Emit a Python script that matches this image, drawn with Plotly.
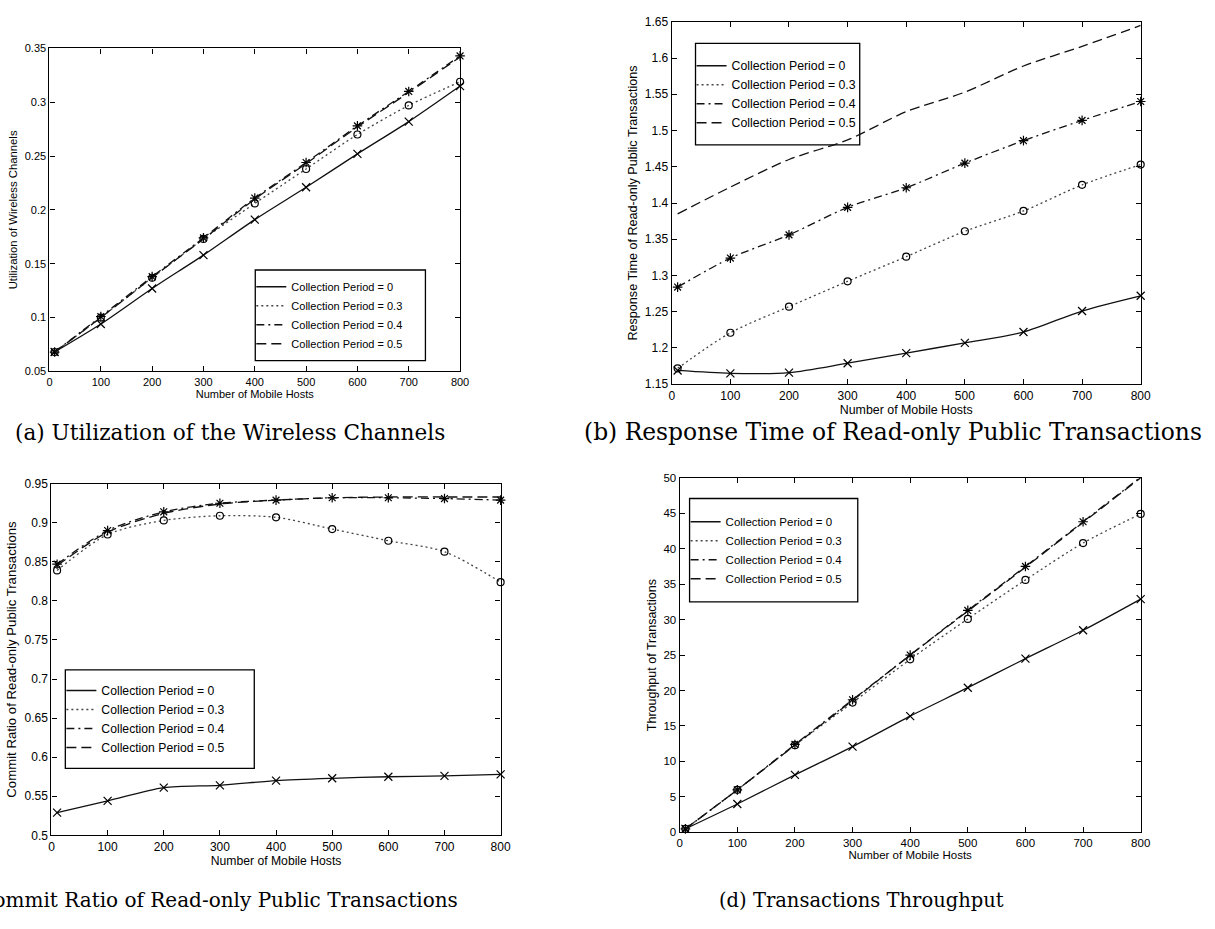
import plotly.graph_objects as go

W, H = 1215, 929

hosts = [10, 100, 200, 300, 400, 500, 600, 700, 800]
series_names = ["Collection Period = 0", "Collection Period = 0.3",
                "Collection Period = 0.4", "Collection Period = 0.5"]

# (a) Utilization of the Wireless Channels
util_cp0 = [0.068, 0.094, 0.127, 0.158, 0.191, 0.221, 0.252, 0.282, 0.315]
util_cp3 = [0.068, 0.100, 0.137, 0.173, 0.206, 0.238, 0.270, 0.297, 0.319]
util_cp4 = [0.068, 0.101, 0.138, 0.174, 0.211, 0.244, 0.278, 0.310, 0.343]
util_cp5 = [0.068, 0.100, 0.137, 0.173, 0.210, 0.243, 0.277, 0.309, 0.342]

# (b) Response Time of Read-only Public Transactions
resp_cp0 = [1.169, 1.165, 1.166, 1.179, 1.193, 1.207, 1.222, 1.251, 1.272]
resp_cp3 = [1.172, 1.221, 1.257, 1.292, 1.326, 1.361, 1.389, 1.425, 1.453]
resp_cp4 = [1.284, 1.324, 1.356, 1.394, 1.421, 1.455, 1.486, 1.514, 1.540]
resp_cp5 = [1.385, 1.422, 1.460, 1.487, 1.526, 1.553, 1.589, 1.616, 1.645]

# (c) Commit Ratio of Read-only Public Transactions
commit_cp0 = [0.529, 0.544, 0.561, 0.564, 0.570, 0.573, 0.575, 0.576, 0.578]
commit_cp3 = [0.839, 0.885, 0.903, 0.909, 0.907, 0.892, 0.877, 0.863, 0.824]
commit_cp4 = [0.847, 0.890, 0.914, 0.925, 0.929, 0.932, 0.932, 0.931, 0.929]
commit_cp5 = [0.845, 0.888, 0.912, 0.924, 0.929, 0.932, 0.933, 0.933, 0.933]

# (d) Transactions Throughput
thr_cp0 = [0.5, 4.0, 8.1, 12.1, 16.4, 20.4, 24.5, 28.5, 32.9]
thr_cp3 = [0.5, 6.0, 12.3, 18.3, 24.4, 30.1, 35.6, 40.8, 44.9]
thr_cp4 = [0.5, 6.0, 12.4, 18.7, 25.0, 31.3, 37.5, 43.8, 50.1]
thr_cp5 = [0.5, 6.0, 12.3, 18.6, 25.0, 31.2, 37.4, 43.7, 50.0]

panels = [
    dict(data=[util_cp0, util_cp3, util_cp4, util_cp5],
         box=(47, 462, 42, 370), yrange=[0.05, 0.35], ydtick=0.05,
         ytitle="Utilization of Wireless Channels",
         tick=11, xt=11, yt=11.3, leg=11,
         legend_box=(255, 427, 267, 359),
         caption="(a) Utilization of the Wireless Channels",
         cap_pos=(10, 432), cap_anchor="left", cap_size=21.6),
    dict(data=[resp_cp0, resp_cp3, resp_cp4, resp_cp5],
         box=(676, 1150, 15, 383), yrange=[1.15, 1.65], ydtick=0.05,
         ytitle="Response Time of Read-only Public Transactions",
         tick=12, xt=12.4, yt=12.6, leg=12.3,
         legend_box=(700, 866, 37, 140),
         caption="(b) Response Time of Read-only Public Transactions",
         cap_pos=(585, 432), cap_anchor="left", cap_size=23.4),
    dict(data=[commit_cp0, commit_cp3, commit_cp4, commit_cp5],
         box=(49, 503, 484, 841), yrange=[0.5, 0.95], ydtick=0.05,
         ytitle="Commit Ratio of Read-only Public Transactions",
         tick=12, xt=12.2, yt=13.2, leg=12.2,
         legend_box=(63, 254, 673, 773),
         caption="(c) Commit Ratio of Read-only Public Transactions",
         cap_pos=(462, 907), cap_anchor="right", cap_size=20),
    dict(data=[thr_cp0, thr_cp3, thr_cp4, thr_cp5],
         box=(684, 1150, 478, 838), yrange=[0, 50], ydtick=5,
         ytitle="Throughput of Transactions",
         tick=11.5, xt=11.5, yt=12.5, leg=11.5,
         legend_box=(694, 864, 499, 604),
         caption="(d) Transactions Throughput",
         cap_pos=(722, 907), cap_anchor="left", cap_size=19.5),
]

styles = [
    dict(dash="solid", symbol="x-thin-open", msize=8, color="#111111"),
    dict(dash="2px,3px", symbol="circle-open", msize=7, color="#444444"),
    dict(dash="8px,4px,2px,4px", symbol="asterisk-open", msize=8, color="#111111"),
    dict(dash="10px,5px", symbol=None, msize=0, color="#111111"),
]

SANS = "Liberation Sans, Arial, sans-serif"
SERIF = "DejaVu Serif, Liberation Serif, serif"

fig = go.Figure()
layout = dict(width=W, height=H, margin=dict(l=0, r=0, t=0, b=0),
              plot_bgcolor="white", paper_bgcolor="white", showlegend=True,
              font=dict(family=SANS, color="black"))
annotations = []
shapes = []

for i, p in enumerate(panels):
    k = "" if i == 0 else str(i + 1)
    x0, x1, y0, y1 = p["box"]
    legname = "legend" if i == 0 else f"legend{i + 1}"
    for j, (vals, st) in enumerate(zip(p["data"], styles)):
        mode = "lines+markers" if st["symbol"] else "lines"
        tr = go.Scatter(
            x=hosts, y=vals, mode=mode, name=series_names[j], showlegend=False,
            xaxis="x" + k, yaxis="y" + k,
            line=dict(color=st["color"], width=1.3, dash=st["dash"], shape="spline", smoothing=0.8),
            cliponaxis=False,
        )
        if st["symbol"]:
            tr.marker = dict(symbol=st["symbol"], size=st["msize"], color="black",
                             line=dict(color="black", width=1.2))
        fig.add_trace(tr)
        # legend entry (line sample only, as in the original)
        fig.add_trace(go.Scatter(
            x=[None], y=[None], mode="lines", name=series_names[j],
            xaxis="x" + k, yaxis="y" + k, legend=legname,
            line=dict(color=st["color"], width=1.5, dash=st["dash"]),
        ))
    layout["xaxis" + k] = dict(
        domain=[x0 / W, x1 / W], anchor="y" + k, range=[0, 800], dtick=100,
        showline=True, mirror="ticks", linecolor="black", linewidth=1.3,
        ticks="inside", ticklen=5, tickcolor="black", showgrid=False, zeroline=False,
        tickfont=dict(family=SANS, size=p["tick"], color="black"),
        title=dict(text="Number of Mobile Hosts", font=dict(family=SANS, size=p["xt"], color="black"), standoff=2),
    )
    layout["yaxis" + k] = dict(
        domain=[1 - y1 / H, 1 - y0 / H], anchor="x" + k, range=p["yrange"], dtick=p["ydtick"],
        showline=True, mirror="ticks", linecolor="black", linewidth=1.3,
        ticks="inside", ticklen=5, tickcolor="black", showgrid=False, zeroline=False,
        tickfont=dict(family=SANS, size=p["tick"], color="black"),
        title=dict(text=p["ytitle"], font=dict(family=SANS, size=p["yt"], color="black"), standoff=4),
    )
    bx0, bx1, by0, by1 = p["legend_box"]
    shapes.append(dict(type="rect", xref="paper", yref="paper",
                       x0=bx0 / W, x1=bx1 / W, y0=1 - by1 / H, y1=1 - by0 / H,
                       line=dict(color="black", width=1.3), fillcolor="white", layer="below"))
    layout[legname] = dict(
        x=(bx0 - 4) / W, y=1 - ((by0 + by1) / 2) / H, xanchor="left", yanchor="middle",
        xref="paper", yref="paper",
        bgcolor="rgba(0,0,0,0)", borderwidth=0,
        font=dict(family=SANS, size=p["leg"], color="black"),
        tracegroupgap=0,
    )
    cx, cy = p["cap_pos"]
    annotations.append(dict(
        text=p["caption"], x=cx / W, y=1 - cy / H, xref="paper", yref="paper",
        xanchor=p["cap_anchor"], yanchor="middle", showarrow=False,
        font=dict(family=SERIF, size=p["cap_size"], color="black"),
    ))

layout["annotations"] = annotations
layout["shapes"] = shapes
fig.update_layout(**layout)
fig.write_html("out.html")
